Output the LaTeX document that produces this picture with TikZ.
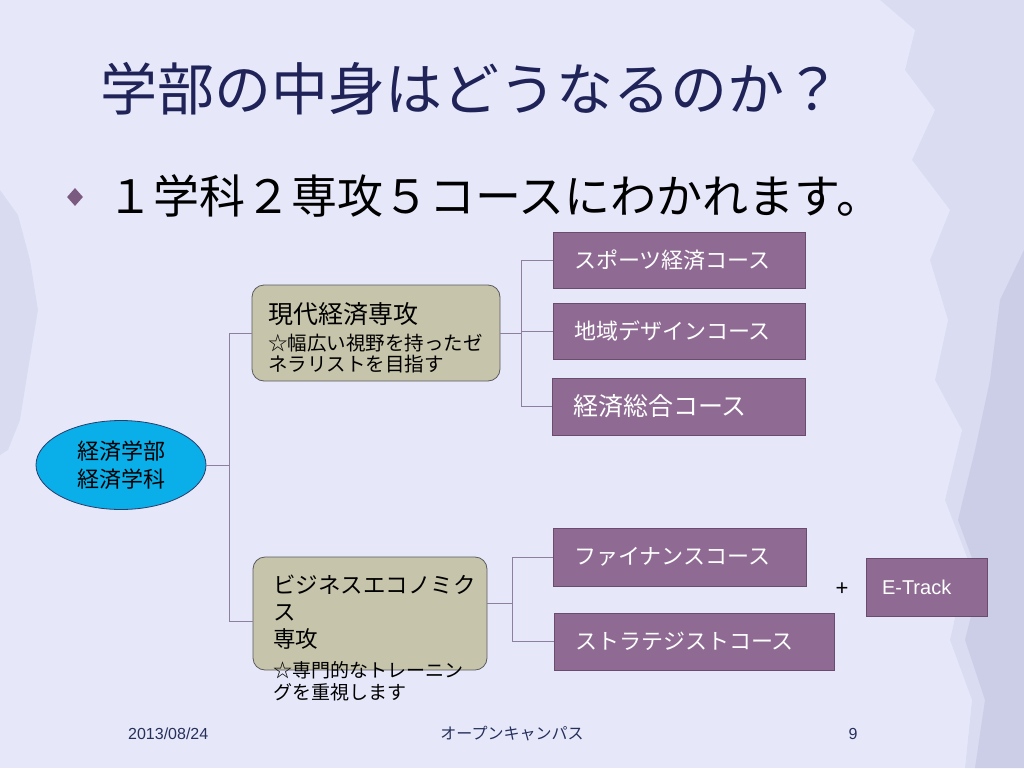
\documentclass[tikz,border=0pt]{standalone}
\usepackage{fontspec}
\setmainfont{Noto Sans CJK JP}
\newfontfamily\latinfont{Liberation Sans}
\usepackage{tikz}
\usetikzlibrary{shapes.geometric}

\definecolor{sfondo}{HTML}{E6E8FA}
\definecolor{pennello}{HTML}{C6C8E4}
\definecolor{pennellob}{HTML}{B4B2D4}
\definecolor{titolo}{HTML}{1F2358}
\definecolor{punto}{HTML}{7B5A80}
\definecolor{corso}{HTML}{8F6B94}
\definecolor{corsobordo}{HTML}{6A4D6E}
\definecolor{khaki}{HTML}{C6C4AA}
\definecolor{khakibordo}{HTML}{5A5A60}
\definecolor{ciano}{HTML}{0AAEE8}
\definecolor{cianobordo}{HTML}{2B3C6B}
\definecolor{linea}{HTML}{8C7FA0}
\definecolor{piede}{HTML}{26305A}

\tikzset{
  course/.style={draw=corsobordo, fill=corso, text=white, minimum height=56pt,
    inner xsep=21pt, inner ysep=0pt, align=left, font=\fontsize{22}{26}\selectfont},
  major/.style={draw=khakibordo, fill=khaki, rounded corners=12pt, line width=0.8pt},
  majortext/.style={anchor=north west, inner sep=0pt, align=left},
  dept/.style={ellipse, draw=cianobordo, fill=ciano, line width=0.8pt, align=center,
    font=\fontsize{22}{28}\selectfont},
  link/.style={draw=linea, line width=0.8pt},
  footer/.style={text=piede, inner sep=0pt, font=\fontsize{16}{18}\selectfont},
}

\begin{document}
\begin{tikzpicture}[x=1pt,y=-1pt]
  \useasboundingbox (0,0) rectangle (1024,768);
  \fill[sfondo] (0,0) rectangle (1024,768);
  %\draw[help lines,step=64] (0,0) grid (1024,768);
  % brush strokes at the edges
  \fill[pennello,opacity=0.35] (1024,0) -- (880,0) -- (915,30) -- (905,70) -- (935,110) -- (912,160)
    -- (950,210) -- (930,260) -- (948,320) -- (935,380) -- (962,430) -- (945,500) -- (968,560)
    -- (950,640) -- (972,700) -- (965,768) -- (1024,768) -- cycle;
  \fill[pennellob,opacity=0.35] (1024,250) -- (1000,300) -- (990,380) -- (975,450) -- (958,520)
    -- (980,580) -- (965,640) -- (985,700) -- (975,768) -- (1024,768) -- cycle;
  \fill[pennello,opacity=0.4] (0,190) -- (18,215) -- (30,260) -- (38,310) -- (28,370) -- (20,420)
    -- (8,450) -- (0,455) -- cycle;

  % title and bullet
  \node[font=\fontsize{57}{62}\selectfont, text=titolo, anchor=base] (title) at (471,110) {学部の中身はどうなるのか？};
  \node[diamond, fill=punto, minimum width=16pt, minimum height=18pt, inner sep=0pt] (bullet) at (75,197) {};
  \node[anchor=base west, inner sep=0pt, font=\fontsize{46}{52}\selectfont] (intro) at (107,213) {１学科２専攻５コースにわかれます。};

  % faculty and majors
  \node[dept, minimum width=170pt, minimum height=89pt] (dept) at (121,465) {経済学部\\経済学科};
  \node[major, minimum width=248pt, minimum height=96pt] (m1) at (376,333) {};
  \node[majortext, font=\fontsize{19.5}{21}\selectfont] (m1txt) at (268,302)
    {{\fontsize{25}{27}\selectfont 現代経済専攻}\\[6pt]☆幅広い視野を持ったゼ\\ネラリストを目指す};
  \node[major, minimum width=234pt, minimum height=113pt] (m2) at (370,613.5) {};
  \node[majortext, font=\fontsize{22.5}{27}\selectfont] (m2txt) at (273,575)
    {ビジネスエコノミク\\ス\\専攻\\[3pt]{\fontsize{19}{22}\selectfont ☆専門的なトレーニン}\\[-5pt]{\fontsize{19}{22}\selectfont グを重視します}};

  % courses
  \node[course, text width=210pt] (c1) at (679,260) {スポーツ経済コース};
  \node[course, text width=210pt] (c2) at (679,331) {地域デザインコース};
  \node[course, text width=211pt, minimum height=57pt, font=\fontsize{25}{29}\selectfont] (c3) at (678.5,406.5) {経済総合コース};
  \node[course, text width=211pt, minimum height=58pt] (c4) at (679.5,557) {ファイナンスコース};
  \node[course, text width=238pt, minimum height=57pt] (c5) at (694,641.5) {ストラテジストコース};
  \node[anchor=center, inner sep=0pt, font=\latinfont\fontsize{22}{24}\selectfont] (plus) at (842,589) {+};
  \node[course, text width=89pt, inner xsep=16pt, minimum height=58pt, font=\latinfont\fontsize{20}{22}\selectfont] (etrack) at (926.5,587) {E-Track};

  % connectors
  \draw[link] (dept.east) -- ++(23,0) coordinate (j0);
  \draw[link] (j0) |- (m1.west);
  \draw[link] (j0) |- (m2.184);
  \draw[link] (m1.east) -- ++(21,0) coordinate (j1);
  \draw[link] (j1) |- (c1.west);
  \draw[link] (j1) |- (c2.west);
  \draw[link] (j1) |- (c3.west);
  \draw[link] (m2.5) -- ++(25,0) coordinate (j2);
  \draw[link] (j2) |- (c4.west);
  \draw[link] (j2) |- (c5.west);

  % footer
  \node[footer, anchor=base west, font=\latinfont\fontsize{16}{18}\selectfont] (date) at (128,739) {2013/08/24};
  \node[footer, anchor=base] (event) at (512,739) {オープンキャンパス};
  \node[footer, anchor=base, font=\latinfont\fontsize{16}{18}\selectfont] (page) at (853,739) {9};
\end{tikzpicture}
\end{document}
